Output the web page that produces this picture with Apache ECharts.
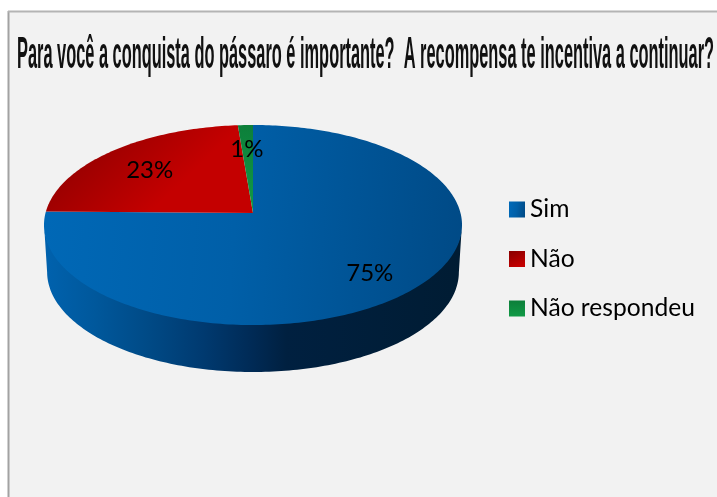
<!DOCTYPE html>
<html><head><meta charset="utf-8">
<style>html,body{margin:0;padding:0;background:#fff}#c{width:717px;height:497px}</style>
<script src="https://cdn.jsdelivr.net/npm/echarts@6/dist/echarts.min.js"></script>
</head><body><div id="c"></div>
<script>
const titleText = 'Para você a conquista do pássaro é importante?  A recompensa te incentiva a continuar?';
const categories = ['Sim', 'Não', 'Não respondeu'];
const values = [75, 23.4, 1.3];

const total = values.reduce((a, b) => a + b, 0);
const L = {cx: 253, cy: 213, rx: 207.5, a: 98.6, k: 0.12, depth: 47, bottomScale: 0.985};
const labelFx = [0.733, 0.737, 0.8];
const labelFy = [0.79, 0.68, 0.72];
const faceFill = [
  {type:'linear',x:0,y:0.6,x2:1,y2:0.75,colorStops:[{offset:0,color:'#0068b6'},{offset:0.45,color:'#005fa8'},{offset:1,color:'#004a86'}]},
  {type:'linear',x:0.1,y:0,x2:0.5,y2:1,colorStops:[{offset:0,color:'#8a0000'},{offset:1,color:'#c40000'}]},
  {type:'linear',x:0,y:0,x2:0,y2:1,colorStops:[{offset:0,color:'#0d7f3a'},{offset:1,color:'#119a46'}]}
];
const wallFill = {type:'linear',x:0,y:0,x2:1,y2:0,colorStops:[
  {offset:0,color:'#0062ae'},{offset:0.12,color:'#00589c'},{offset:0.25,color:'#004a86'},{offset:0.38,color:'#003a70'},
  {offset:0.5,color:'#002a55'},{offset:0.58,color:'#002040'},{offset:1,color:'#001c33'}]};

function pt(deg, scale, dy) {
  const t = deg * Math.PI / 180, d = 1 + L.k * Math.cos(t);
  return [L.cx + scale * L.rx * Math.sin(t) / d, L.cy + dy - L.a * Math.cos(t) / d];
}
function arc(a0, a1, scale, dy) {
  const n = Math.max(2, Math.ceil(Math.abs(a1 - a0))), out = [];
  for (let i = 0; i <= n; i++) out.push(pt(a0 + (a1 - a0) * i / n, scale, dy));
  return out;
}
function makeSeries(i) {
  const start = values.slice(0, i).reduce((a, b) => a + b, 0) / total * 360;
  const end = start + values[i] / total * 360;
  return {
    type: 'custom', name: categories[i], coordinateSystem: 'none',
    itemStyle: {color: faceFill[i]},
    data: [values[i]],
    renderItem: function () {
      const children = [];
      const w0 = Math.max(start, 97), w1 = Math.min(end, 263);
      if (w1 > w0) {
        children.push({type:'polygon', shape:{points: arc(w0, w1, 1, -2).concat(arc(w1, w0, L.bottomScale, L.depth))}, style:{fill: wallFill}});
      }
      children.push({type:'polygon', shape:{points: [[L.cx, L.cy]].concat(arc(start, end, 1, 0))}, style:{fill: faceFill[i]}});
      const edge = pt((start + end) / 2, 1, 0);
      children.push({type:'text', z2: 100, style:{x: L.cx + (edge[0] - L.cx) * labelFx[i], y: L.cy + (edge[1] - L.cy) * labelFy[i], text: Math.round(values[i]) + '%', fill:'#000', font:'24px Lato, sans-serif', align:'center', verticalAlign:'middle'}});
      return {type:'group', children};
    }
  };
}
const titleFont = 'bold 44px "Liberation Sans", sans-serif';
const measure = document.createElement('canvas').getContext('2d');
measure.font = titleFont;
const titleScale = 697 / measure.measureText(titleText).width;

const chart = echarts.init(document.getElementById('c'), null, {renderer:'canvas'});
chart.setOption({
  animation: false,
  backgroundColor: '#ffffff',
  graphic: [
    {type:'rect', z:-10, shape:{x:9,y:12,width:720,height:500}, style:{fill:'#f2f2f2'}},
    {type:'line', z:-9, shape:{x1:8.5,y1:11,x2:8.5,y2:497}, style:{stroke:'#a2a2a2', lineWidth:2}},
    {type:'line', z:-9, shape:{x1:8,y1:11.5,x2:717,y2:11.5}, style:{stroke:'#b4b4b4', lineWidth:2}},
    {type:'text', z:5, x:17, y:34, scaleX:titleScale, style:{text:titleText, font:titleFont, fill:'#111', align:'left', verticalAlign:'top'}}
  ],
  legend: {orient:'vertical', left: 504, top: 192, icon:'rect', itemWidth:16, itemHeight:16, itemGap:24.5, selectedMode:false,
    data: categories, textStyle:{fontFamily:'Lato, sans-serif', fontSize:24.6, color:'#000'}},
  series: categories.map((_, i) => makeSeries(i))
});
</script></body></html>
